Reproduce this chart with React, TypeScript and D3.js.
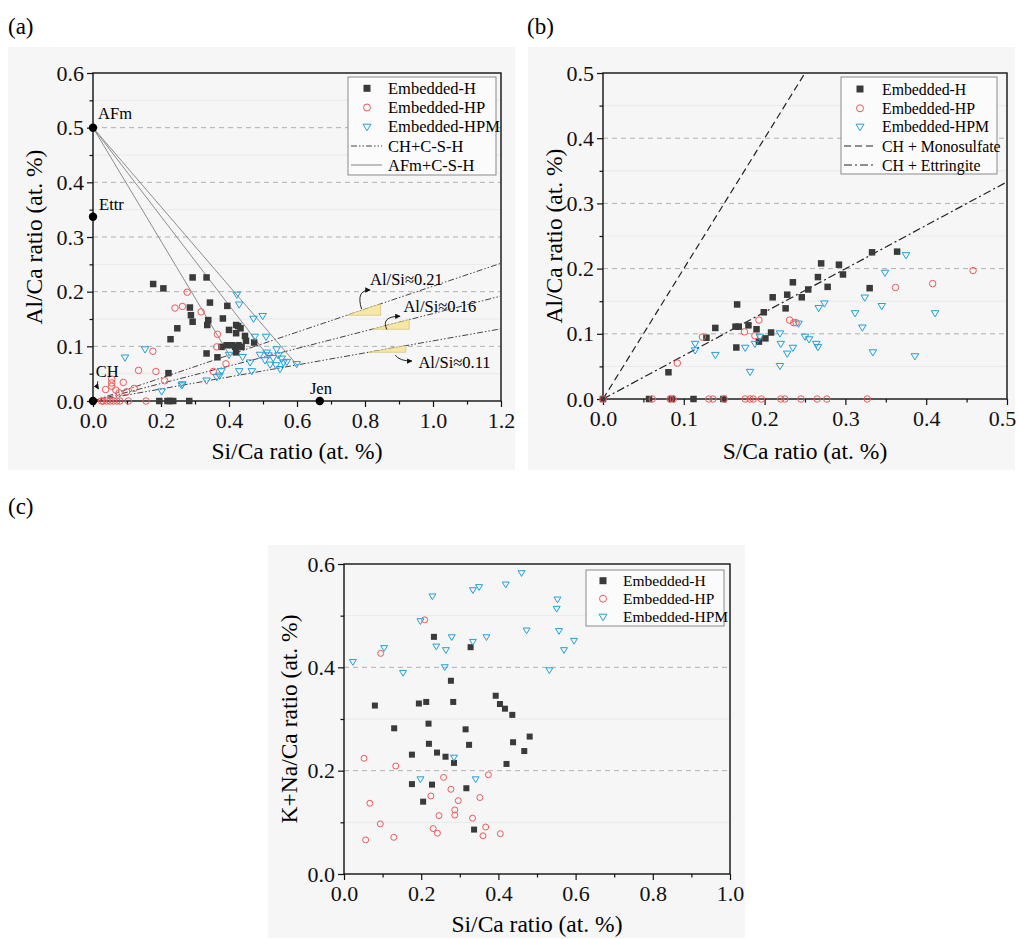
import { useEffect, useRef } from 'react'
import * as d3 from 'd3'

type Pt = [number, number]

// ---- panel (a): Al/Ca vs Si/Ca ----
const aH: Pt[] = [
  [0.177, 0.214], [0.207, 0.206], [0.293, 0.226], [0.334, 0.226], [0.344, 0.18], [0.285, 0.171],
  [0.288, 0.157], [0.293, 0.145], [0.339, 0.148], [0.336, 0.139], [0.248, 0.133], [0.228, 0.113],
  [0.395, 0.174], [0.382, 0.151], [0.4, 0.13], [0.421, 0.139], [0.427, 0.137], [0.434, 0.133],
  [0.421, 0.124], [0.447, 0.119], [0.45, 0.11], [0.474, 0.107], [0.378, 0.099], [0.393, 0.102],
  [0.408, 0.102], [0.418, 0.099], [0.428, 0.102], [0.437, 0.099], [0.334, 0.087], [0.366, 0.08],
  [0.421, 0.089], [0.222, 0.051], [0.195, 0], [0.219, 0], [0.226, 0], [0.236, 0], [0.283, 0]
]
const aHP: Pt[] = [
  [0.277, 0.199], [0.241, 0.17], [0.263, 0.173], [0.318, 0.163], [0.366, 0.122], [0.364, 0.099],
  [0.391, 0.068], [0.354, 0.054], [0.176, 0.091], [0.134, 0.056], [0.185, 0.054], [0.211, 0.037],
  [0.055, 0.04], [0.055, 0.033], [0.055, 0.027], [0.089, 0.034], [0.037, 0.021], [0.067, 0.02],
  [0.077, 0.015], [0.099, 0.017], [0.121, 0.023], [0.025, 0], [0.03, 0], [0.04, 0], [0.05, 0],
  [0.06, 0], [0.07, 0], [0.079, 0], [0.104, 0], [0.156, 0]
]
const aHPM: Pt[] = [
  [0.423, 0.195], [0.43, 0.177], [0.472, 0.151], [0.499, 0.156], [0.476, 0.118], [0.509, 0.118],
  [0.54, 0.095], [0.511, 0.089], [0.491, 0.085], [0.44, 0.081], [0.462, 0.071], [0.4, 0.085],
  [0.378, 0.055], [0.364, 0.044], [0.372, 0.047], [0.43, 0.055], [0.467, 0.055], [0.334, 0.038],
  [0.261, 0.029], [0.263, 0.031], [0.202, 0.018], [0.516, 0.084], [0.53, 0.079], [0.545, 0.084],
  [0.555, 0.078], [0.56, 0.071], [0.57, 0.072], [0.521, 0.067], [0.538, 0.066], [0.55, 0.059],
  [0.599, 0.068], [0.506, 0.075], [0.094, 0.08], [0.153, 0.095]
]
// AFm + C-S-H tie lines, from AFm to end point
const afmLineEnds: Pt[] = [[0.401, 0.084], [0.515, 0.082], [0.6, 0.066]]
// CH + C-S-H lines (Al/Si slopes)
const alSiSlopes = [0.21, 0.16, 0.11]
const alSiLabels = ['Al/Si≈0.21', 'Al/Si≈0.16', 'Al/Si≈0.11']
const slopeTriX: Pt[] = [[0.746, 0.846], [0.82, 0.93], [0.81, 0.92]]
const slopeLabelPos: Pt[] = [[0.815, 0.212], [0.913, 0.163], [0.957, 0.06]]
const slopeArrowFrom: Pt[] = [[0.79, 0.168], [0.864, 0.131], [0.889, 0.084]]
const slopeArrowTo: Pt[] = [[0.815, 0.203], [0.903, 0.155], [0.938, 0.073]]
const phaseNames = ['AFm', 'Ettr', 'CH', 'Jen']
const phasePts: Pt[] = [[0, 0.5], [0, 0.337], [0, 0], [0.667, 0]]
const phaseLabelPos: Pt[] = [[0.015, 0.515], [0.018, 0.35], [0.008, 0.044], [0.638, 0.013]]

// ---- panel (b): Al/Ca vs S/Ca ----
const bH: Pt[] = [
  [0.081, 0.041], [0.128, 0.094], [0.139, 0.109], [0.166, 0.145], [0.164, 0.111], [0.168, 0.111],
  [0.18, 0.113], [0.165, 0.079], [0.19, 0.107], [0.193, 0.088], [0.199, 0.133], [0.201, 0.093],
  [0.208, 0.102], [0.21, 0.156], [0.228, 0.16], [0.235, 0.179], [0.226, 0.139], [0.246, 0.156],
  [0.254, 0.168], [0.266, 0.187], [0.27, 0.208], [0.278, 0.172], [0.292, 0.206], [0.297, 0.191],
  [0.33, 0.17], [0.333, 0.225], [0.364, 0.226], [0, 0], [0.057, 0], [0.085, 0], [0.112, 0], [0.149, 0]
]
const bHP: Pt[] = [
  [0.092, 0.055], [0.123, 0.095], [0.175, 0.103], [0.188, 0.097], [0.193, 0.121], [0.231, 0.121],
  [0.236, 0.117], [0.239, 0.117], [0.362, 0.171], [0.408, 0.177], [0.458, 0.197], [0, 0],
  [0.061, 0], [0.083, 0], [0.087, 0], [0.131, 0], [0.136, 0], [0.15, 0], [0.176, 0], [0.182, 0],
  [0.186, 0], [0.196, 0], [0.22, 0], [0.225, 0], [0.245, 0], [0.265, 0], [0.277, 0], [0.327, 0]
]
const bHPM: Pt[] = [
  [0.114, 0.085], [0.114, 0.075], [0.139, 0.068], [0.176, 0.079], [0.182, 0.042], [0.188, 0.085],
  [0.194, 0.096], [0.219, 0.101], [0.219, 0.051], [0.22, 0.085], [0.228, 0.07], [0.235, 0.079],
  [0.242, 0.116], [0.25, 0.096], [0.255, 0.092], [0.264, 0.085], [0.266, 0.08], [0.267, 0.14],
  [0.274, 0.147], [0.312, 0.132], [0.324, 0.156], [0.321, 0.11], [0.334, 0.072], [0.345, 0.143],
  [0.349, 0.194], [0.375, 0.221], [0.386, 0.066], [0.411, 0.132]
]
const monosulfateLine: Pt[] = [[0, 0], [0.25, 0.5]]
const ettringiteLine: Pt[] = [[0, 0], [0.5, 0.333]]

// ---- panel (c): (K+Na)/Ca vs Si/Ca ----
const cH: Pt[] = [
  [0.08, 0.326], [0.13, 0.282], [0.176, 0.231], [0.176, 0.174], [0.194, 0.33], [0.213, 0.333],
  [0.219, 0.291], [0.22, 0.252], [0.205, 0.14], [0.228, 0.173], [0.233, 0.459], [0.241, 0.235],
  [0.263, 0.227], [0.277, 0.374], [0.283, 0.333], [0.285, 0.215], [0.315, 0.28], [0.324, 0.25],
  [0.317, 0.166], [0.328, 0.439], [0.337, 0.086], [0.393, 0.345], [0.404, 0.329], [0.417, 0.32],
  [0.421, 0.213], [0.436, 0.308], [0.438, 0.255], [0.467, 0.238], [0.481, 0.266]
]
const cHP: Pt[] = [
  [0.052, 0.224], [0.056, 0.066], [0.067, 0.137], [0.095, 0.427], [0.094, 0.097], [0.129, 0.071],
  [0.134, 0.209], [0.209, 0.492], [0.225, 0.151], [0.231, 0.088], [0.242, 0.079], [0.246, 0.113],
  [0.258, 0.187], [0.277, 0.164], [0.287, 0.124], [0.287, 0.114], [0.296, 0.142], [0.333, 0.108],
  [0.352, 0.148], [0.36, 0.074], [0.367, 0.091], [0.374, 0.192], [0.405, 0.078]
]
const cHPM: Pt[] = [
  [0.023, 0.411], [0.104, 0.438], [0.153, 0.39], [0.198, 0.49], [0.198, 0.184], [0.229, 0.538],
  [0.239, 0.441], [0.264, 0.434], [0.261, 0.401], [0.279, 0.459], [0.285, 0.226], [0.334, 0.55],
  [0.334, 0.45], [0.341, 0.184], [0.35, 0.556], [0.369, 0.459], [0.419, 0.561], [0.46, 0.583],
  [0.473, 0.472], [0.532, 0.395], [0.551, 0.514], [0.553, 0.532], [0.557, 0.471], [0.57, 0.434],
  [0.596, 0.452]
]

const seriesNames = ['Embedded-H', 'Embedded-HP', 'Embedded-HPM']

const FONT = '"Liberation Serif", "Times New Roman", serif'
const C_H = '#3a3a3a'
const C_HP = '#ec5a5a'
const C_HPM = '#229fdb'

const App = () => {
  const svgRef = useRef<SVGSVGElement>(null)

  useEffect(() => {
    if (!svgRef.current) return
    const svg = d3.select(svgRef.current)
    svg.selectAll('*').remove()

    svg
      .append('defs')
      .append('marker')
      .attr('id', 'arr')
      .attr('viewBox', '0 0 10 10')
      .attr('refX', 9)
      .attr('refY', 5)
      .attr('markerWidth', 6)
      .attr('markerHeight', 6)
      .attr('orient', 'auto')
      .append('path')
      .attr('d', 'M0,0 L10,5 L0,10 Z')
      .attr('fill', '#111')

    const fmt = d3.format('.1f')

    const panel = (o: {
      bg: [number, number, number, number]
      l: number; r: number; t: number; b: number
      xMax: number; yMax: number
      xMajor: number; yMajor: number
      xTitle: string; yTitle: string
      yTitleX: number; xTitleY: number
      tag: string; tagX: number; tagY: number
      lastXShift?: number
    }) => {
      svg.append('rect')
        .attr('x', o.bg[0]).attr('y', o.bg[1]).attr('width', o.bg[2]).attr('height', o.bg[3])
        .attr('fill', '#f6f6f6')
      svg.append('text')
        .attr('x', o.tagX).attr('y', o.tagY)
        .attr('font-family', FONT).attr('font-size', 23)
        .text(o.tag)

      const x = d3.scaleLinear().domain([0, o.xMax]).range([o.l, o.r])
      const y = d3.scaleLinear().domain([0, o.yMax]).range([o.b, o.t])
      const g = svg.append('g').attr('font-family', FONT)

      const nx = Math.round(o.xMax / o.xMajor)
      const ny = Math.round(o.yMax / o.yMajor)
      const xMaj = d3.range(nx + 1).map(i => +(i * o.xMajor).toFixed(3))
      const yMaj = d3.range(ny + 1).map(i => +(i * o.yMajor).toFixed(3))
      const xMin = d3.range(nx).map(i => +((i + 0.5) * o.xMajor).toFixed(3))
      const yMin = d3.range(ny).map(i => +((i + 0.5) * o.yMajor).toFixed(3))

      // faint minor grid
      g.selectAll('.mg').data(yMin).enter().append('line')
        .attr('x1', o.l).attr('x2', o.r).attr('y1', d => y(d)).attr('y2', d => y(d))
        .attr('stroke', '#e9e9e9').attr('stroke-width', 1)
      // dashed major grid
      g.selectAll('.Mg').data(yMaj.slice(1, -1)).enter().append('line')
        .attr('x1', o.l).attr('x2', o.r).attr('y1', d => y(d)).attr('y2', d => y(d))
        .attr('stroke', '#b0b0b0').attr('stroke-width', 1).attr('stroke-dasharray', '5,4')

      const ax = g.append('g').attr('transform', `translate(0,${o.b})`)
        .call(d3.axisBottom(x).tickValues(xMaj).tickSize(6).tickPadding(5).tickFormat(d => fmt(d as number)))
      const axm = g.append('g').attr('transform', `translate(0,${o.b})`)
        .call(d3.axisBottom(x).tickValues(xMin).tickSize(3.5).tickFormat(() => ''))
      const ay = g.append('g').attr('transform', `translate(${o.l},0)`)
        .call(d3.axisLeft(y).tickValues(yMaj).tickSize(6).tickPadding(3).tickFormat(d => fmt(d as number)))
      const aym = g.append('g').attr('transform', `translate(${o.l},0)`)
        .call(d3.axisLeft(y).tickValues(yMin).tickSize(3.5).tickFormat(() => ''))
      ;[ax, axm, ay, aym].forEach(a => {
        a.attr('font-family', FONT).attr('font-size', 22)
        a.select('.domain').remove()
        a.selectAll('line').attr('stroke', '#111').attr('stroke-width', 1.2)
        a.selectAll('text').attr('fill', '#111')
      })
      if (o.lastXShift) {
        ax.selectAll<SVGTextElement, number>('text')
          .filter(d => d === xMaj[xMaj.length - 1])
          .attr('x', -o.lastXShift)
      }

      g.append('rect')
        .attr('x', o.l).attr('y', o.t).attr('width', o.r - o.l).attr('height', o.b - o.t)
        .attr('fill', 'none').attr('stroke', '#111').attr('stroke-width', 1.4)

      g.append('text')
        .attr('x', (o.l + o.r) / 2).attr('y', o.xTitleY).attr('text-anchor', 'middle')
        .attr('font-size', 23.5).text(o.xTitle)
      g.append('text')
        .attr('transform', `translate(${o.yTitleX},${(o.t + o.b) / 2}) rotate(-90)`)
        .attr('text-anchor', 'middle')
        .attr('font-size', 23.5).text(o.yTitle)

      return { g, x, y }
    }

    const drawSeries = (
      g: d3.Selection<SVGGElement, unknown, null, undefined>,
      x: d3.ScaleLinear<number, number>,
      y: d3.ScaleLinear<number, number>,
      h: Pt[], hp: Pt[], hpm: Pt[], s: number
    ) => {
      g.selectAll('.sq').data(h).enter().append('rect')
        .attr('x', d => x(d[0]) - s / 2).attr('y', d => y(d[1]) - s / 2)
        .attr('width', s).attr('height', s).attr('fill', C_H)
      g.selectAll('.ci').data(hp).enter().append('circle')
        .attr('cx', d => x(d[0])).attr('cy', d => y(d[1])).attr('r', s / 2)
        .attr('fill', 'none').attr('stroke', C_HP).attr('stroke-width', 1)
      const tri = (cx: number, cy: number) => {
        const w = s * 0.58
        return `M${cx - w},${cy - w * 0.6} L${cx + w},${cy - w * 0.6} L${cx},${cy + w * 1.05} Z`
      }
      g.selectAll('.tr').data(hpm).enter().append('path')
        .attr('d', d => tri(x(d[0]), y(d[1])))
        .attr('fill', 'none').attr('stroke', C_HPM).attr('stroke-width', 1)
    }

    const legend = (
      box: [number, number, number, number], textX: number, markX: number, rows: number[],
      fontSize: number, lines: { label: string; dash: string; color: string }[]
    ) => {
      const lg = svg.append('g').attr('font-family', FONT).attr('font-size', fontSize)
      lg.append('rect').attr('x', box[0]).attr('y', box[1]).attr('width', box[2]).attr('height', box[3])
        .attr('fill', '#fbfbfb').attr('stroke', '#8a8a8a').attr('stroke-width', 1)
      seriesNames.forEach((name, i) => {
        const cy = rows[i]
        if (i === 0) lg.append('rect').attr('x', markX - 3.5).attr('y', cy - 3.5).attr('width', 7).attr('height', 7).attr('fill', C_H)
        if (i === 1) lg.append('circle').attr('cx', markX).attr('cy', cy).attr('r', 3.5).attr('fill', 'none').attr('stroke', C_HP)
        if (i === 2) lg.append('path').attr('d', `M${markX - 4},${cy - 2.5} L${markX + 4},${cy - 2.5} L${markX},${cy + 4} Z`).attr('fill', 'none').attr('stroke', C_HPM)
        lg.append('text').attr('x', textX).attr('y', cy).attr('dy', '0.35em').text(name)
      })
      lines.forEach((ln, j) => {
        const cy = rows[3 + j]
        lg.append('line').attr('x1', box[0] + 3).attr('x2', textX - 6).attr('y1', cy).attr('y2', cy)
          .attr('stroke', ln.color).attr('stroke-width', 1.1).attr('stroke-dasharray', ln.dash)
        lg.append('text').attr('x', textX).attr('y', cy).attr('dy', '0.35em').text(ln.label)
      })
    }

    // ---------- (a) ----------
    const pa = panel({
      bg: [8, 47, 507, 423], l: 93, r: 501, t: 73, b: 401, xMax: 1.2, yMax: 0.6, xMajor: 0.2, yMajor: 0.1,
      xTitle: 'Si/Ca ratio (at. %)', yTitle: 'Al/Ca ratio (at. %)', yTitleX: 42, xTitleY: 459,
      tag: '(a)', tagX: 8, tagY: 34
    })
    {
      const { g, x, y } = pa
      const dashCSH = '6,2,1.5,2,1.5,2'
      alSiSlopes.forEach((k, i) => {
        g.append('line').attr('x1', x(0)).attr('y1', y(0)).attr('x2', x(1.2)).attr('y2', y(k * 1.2))
          .attr('stroke', '#444').attr('stroke-width', 1).attr('stroke-dasharray', dashCSH)
        const [x1, x2] = slopeTriX[i]
        g.append('path')
          .attr('d', `M${x(x1)},${y(k * x1)} L${x(x2)},${y(k * x1)} L${x(x2)},${y(k * x2)} Z`)
          .attr('fill', '#f6e7a6').attr('stroke', '#c9b86a').attr('stroke-width', 0.6)
        const [fx, fy] = slopeArrowFrom[i]
        const [tx, ty] = slopeArrowTo[i]
        const cx = i === 2 ? x(fx) + 4 : x(fx) - 6
        g.append('path').attr('d', `M${x(fx)},${y(fy)} Q${cx},${y(ty)} ${x(tx)},${y(ty)}`)
          .attr('fill', 'none').attr('stroke', '#111').attr('stroke-width', 0.9).attr('marker-end', 'url(#arr)')
        g.append('text').attr('x', x(slopeLabelPos[i][0])).attr('y', y(slopeLabelPos[i][1]))
          .attr('font-size', 16.5).text(alSiLabels[i])
      })
      afmLineEnds.forEach(e => {
        g.append('line').attr('x1', x(0)).attr('y1', y(0.5)).attr('x2', x(e[0])).attr('y2', y(e[1]))
          .attr('stroke', '#8c8c8c').attr('stroke-width', 1)
      })
      // CH arrow
      g.append('path').attr('d', `M${x(0.014)},${y(0.036)} Q${x(0.01)},${y(0.028)} ${x(0.016)},${y(0.022)}`)
        .attr('fill', 'none').attr('stroke', '#111').attr('stroke-width', 0.9).attr('marker-end', 'url(#arr)')
      drawSeries(g, x, y, aH, aHP, aHPM, 6.5)
      phasePts.forEach((p, i) => {
        g.append('circle').attr('cx', x(p[0])).attr('cy', y(p[1])).attr('r', 4.2).attr('fill', '#000')
        g.append('text').attr('x', x(phaseLabelPos[i][0])).attr('y', y(phaseLabelPos[i][1]))
          .attr('font-size', 16.5).text(phaseNames[i])
      })
      legend([348, 77, 148, 98], 388, 367, [88.3, 107.5, 126.7, 146, 165], 16.5, [
        { label: 'CH+C-S-H', dash: dashCSH, color: '#444' },
        { label: 'AFm+C-S-H', dash: 'none', color: '#8c8c8c' }
      ])
    }

    // ---------- (b) ----------
    const pb = panel({
      bg: [528, 47, 487, 423], l: 603, r: 1007, t: 73, b: 399, xMax: 0.5, yMax: 0.5, xMajor: 0.1, yMajor: 0.1,
      xTitle: 'S/Ca ratio (at. %)', yTitle: 'Al/Ca ratio (at. %)', yTitleX: 562, xTitleY: 459,
      tag: '(b)', tagX: 527, tagY: 34, lastXShift: 5
    })
    {
      const { g, x, y } = pb
      const line = d3.line<Pt>().x(d => x(d[0])).y(d => y(d[1]))
      g.append('path').attr('d', line(monosulfateLine)).attr('fill', 'none')
        .attr('stroke', '#222').attr('stroke-width', 1.2).attr('stroke-dasharray', '7,4')
      g.append('path').attr('d', line(ettringiteLine)).attr('fill', 'none')
        .attr('stroke', '#222').attr('stroke-width', 1.2).attr('stroke-dasharray', '8,3,2,3')
      drawSeries(g, x, y, bH, bHP, bHPM, 6.5)
      legend([841, 77, 156, 97], 882, 860, [89, 108.3, 126.7, 146, 165], 15.8, [
        { label: 'CH + Monosulfate', dash: '7,4', color: '#222' },
        { label: 'CH + Ettringite', dash: '8,3,2,3', color: '#222' }
      ])
    }

    // ---------- (c) ----------
    const pc = panel({
      bg: [268, 545, 477, 393], l: 344, r: 730, t: 564, b: 874, xMax: 1.0, yMax: 0.6, xMajor: 0.2, yMajor: 0.2,
      xTitle: 'Si/Ca ratio (at. %)', yTitle: 'K+Na/Ca ratio (at. %)', yTitleX: 297, xTitleY: 932,
      tag: '(c)', tagX: 8, tagY: 514
    })
    {
      const { g, x, y } = pc
      drawSeries(g, x, y, cH, cHP, cHPM, 6)
      legend([586, 570, 138, 56], 623, 603, [580.7, 598.7, 616.7], 15.5, [])
    }
  }, [])

  return (
    <svg
      ref={svgRef}
      width={1019}
      height={939}
      style={{ position: 'absolute', left: 0, top: 0, background: '#fff' }}
    />
  )
}

export default App
